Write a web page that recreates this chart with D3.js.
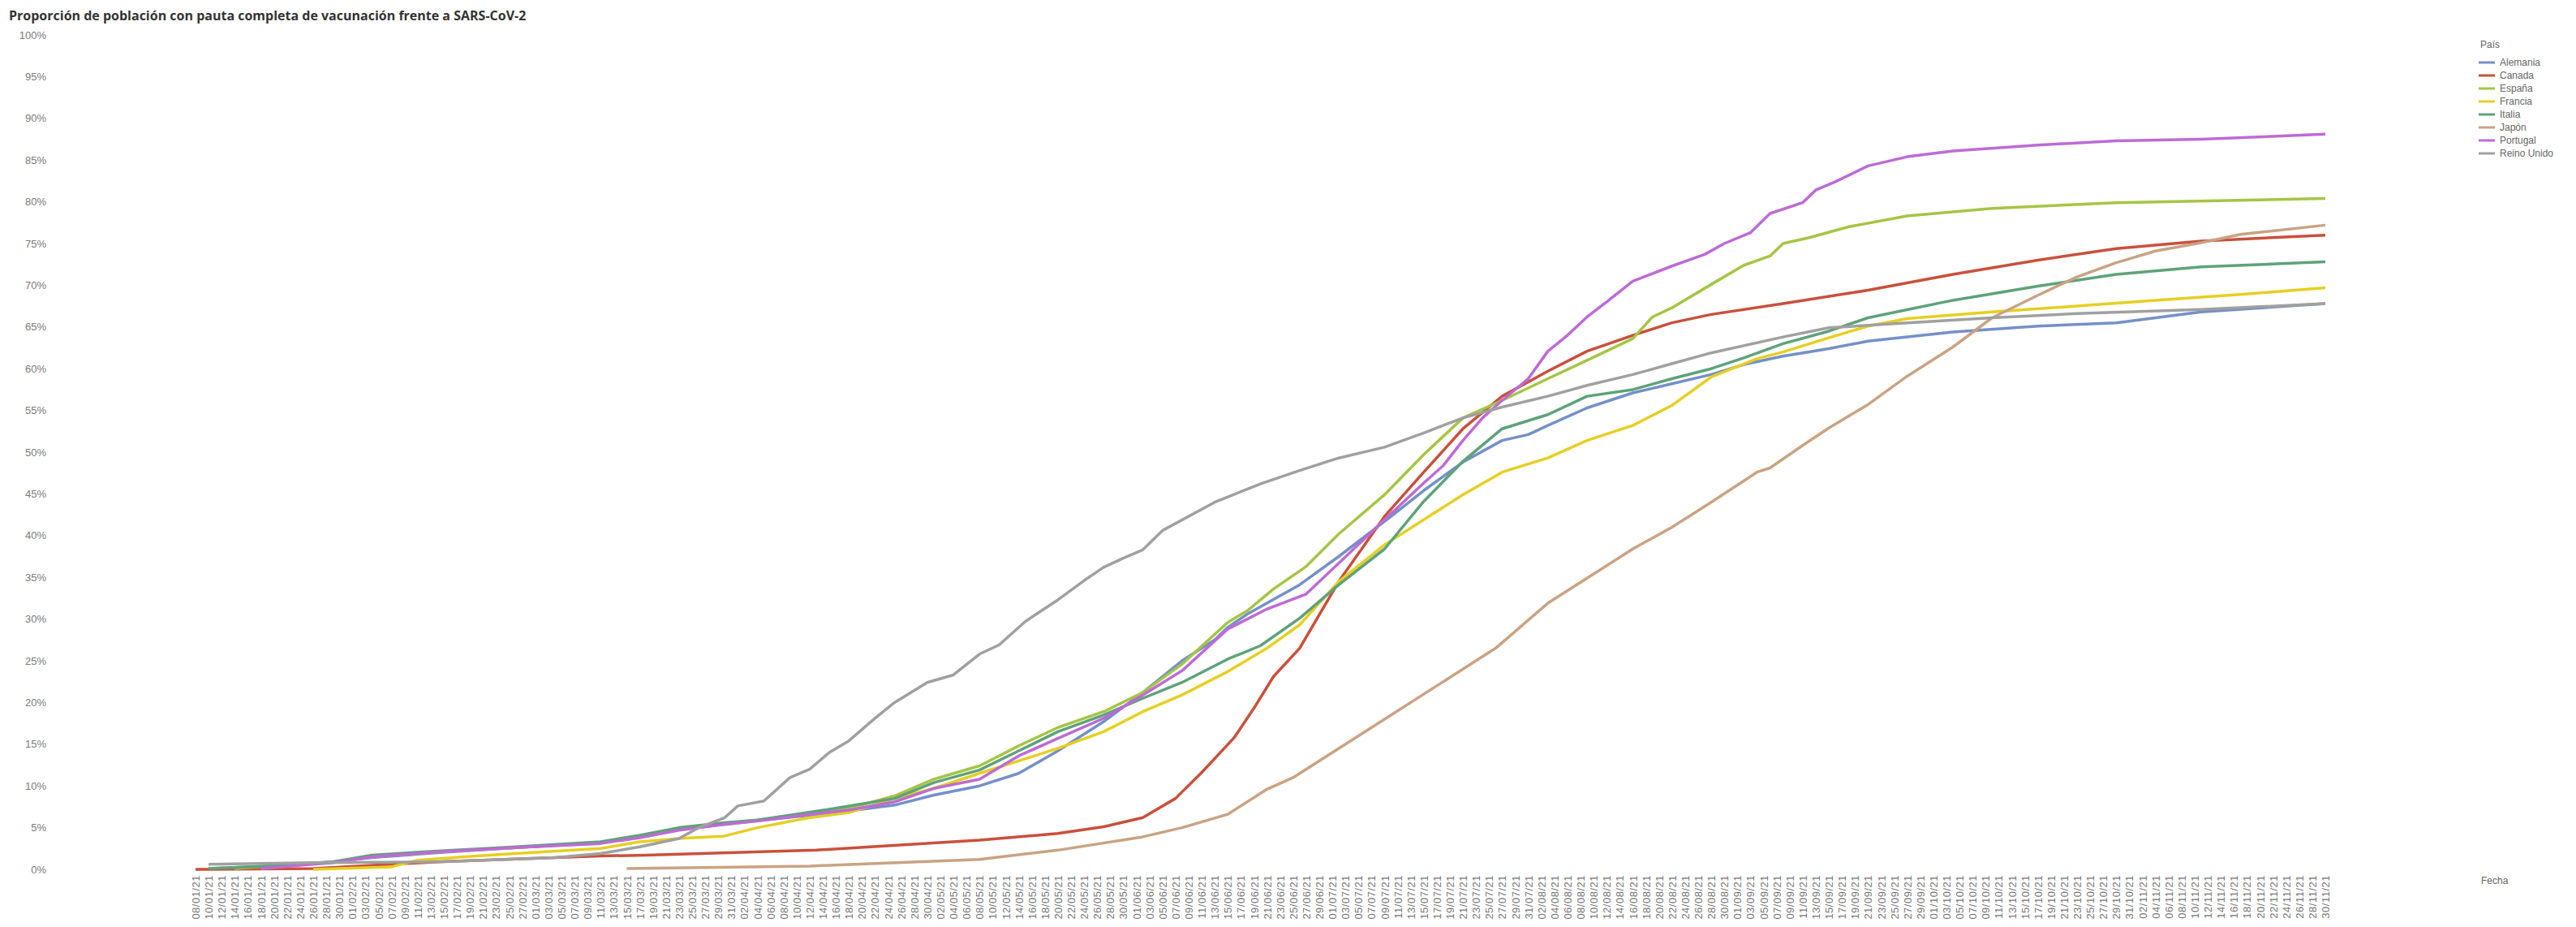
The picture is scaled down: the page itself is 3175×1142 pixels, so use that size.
<!DOCTYPE html>
<html>
<head>
<meta charset="utf-8">
<script src="https://cdn.jsdelivr.net/npm/d3@7"></script>
<style>
  html, body { margin: 0; padding: 0; background: #fff; overflow: hidden; }
  svg { display: block; overflow: visible; }
</style>
</head>
<body>
<svg id="chart"></svg>
<script>
// data: [día/mes, % población con pauta completa]
const countries = ["Alemania", "Canada", "España", "Francia", "Italia", "Japón", "Portugal", "Reino Unido"];
const colors = ["#7490c8", "#c9503b", "#a5c545", "#e6cf22", "#5ea27a", "#c9a383", "#bd6bd4", "#a0a0a0"];
const yTicks = d3.range(0, 101, 5);

const alemania = [["10/01",0.1],["19/01",0.4],["29/01",0.9],["04/02",1.4],["14/02",2.0],["26/02",2.6],["11/03",3.2],["17/03",3.9],["23/03",4.8],["30/03",5.4],["04/04",5.8],["12/04",6.5],["18/04",7.0],["25/04",7.7],["01/05",8.9],["08/05",10.0],["14/05",11.5],["20/05",14.2],["27/05",17.7],["02/06",21.2],["08/06",25.0],["13/06",27.5],["15/06",29.0],["18/06",30.6],["26/06",34.1],["02/07",37.5],["10/07",42.3],["15/07",45.4],["21/07",48.8],["27/07",51.4],["31/07",52.1],["03/08",53.2],["09/08",55.3],["16/08",57.1],["22/08",58.2],["28/08",59.3],["02/09",60.5],["08/09",61.5],["15/09",62.4],["21/09",63.3],["04/10",64.4],["17/10",65.1],["29/10",65.5],["11/11",66.8],["30/11",67.8]];
const canada = [["08/01",0.0],["26/01",0.1],["14/02",0.9],["11/03",1.6],["18/03",1.7],["13/04",2.3],["08/05",3.5],["20/05",4.3],["27/05",5.1],["02/06",6.2],["07/06",8.5],["11/06",11.6],["16/06",15.8],["19/06",19.3],["22/06",23.1],["26/06",26.5],["02/07",34.5],["09/07",42.3],["15/07",47.6],["21/07",52.8],["27/07",56.7],["03/08",59.7],["09/08",62.1],["16/08",64.0],["22/08",65.5],["28/08",66.5],["08/09",67.8],["21/09",69.4],["04/10",71.3],["17/10",73.0],["29/10",74.4],["11/11",75.3],["30/11",76.0]];
const espana = [["14/01",0.1],["19/01",0.4],["29/01",0.8],["04/02",1.5],["14/02",2.1],["26/02",2.6],["11/03",3.2],["17/03",3.9],["23/03",4.8],["30/03",5.5],["04/04",5.9],["12/04",6.7],["18/04",7.3],["25/04",8.8],["01/05",10.8],["08/05",12.4],["14/05",14.8],["20/05",17.0],["27/05",18.9],["02/06",21.2],["08/06",24.6],["15/06",29.6],["18/06",31.0],["22/06",33.6],["27/06",36.3],["02/07",40.2],["09/07",44.9],["15/07",49.7],["21/07",54.1],["27/07",56.2],["03/08",58.8],["09/08",61.0],["16/08",63.6],["19/08",66.2],["22/08",67.3],["28/08",70.1],["02/09",72.4],["06/09",73.5],["08/09",75.0],["12/09",75.7],["18/09",77.0],["27/09",78.3],["10/10",79.2],["29/10",79.9],["30/11",80.4]];
const francia = [["26/01",0.0],["07/02",0.3],["11/02",1.1],["20/02",1.6],["26/02",1.9],["11/03",2.5],["17/03",3.3],["23/03",3.7],["30/03",4.0],["04/04",5.0],["12/04",6.2],["18/04",6.8],["25/04",8.5],["01/05",9.7],["08/05",11.5],["14/05",13.0],["20/05",14.5],["27/05",16.5],["02/06",18.9],["08/06",20.9],["15/06",23.7],["21/06",26.5],["26/06",29.3],["02/07",34.5],["09/07",38.9],["15/07",41.9],["21/07",44.9],["27/07",47.6],["03/08",49.3],["09/08",51.4],["16/08",53.2],["22/08",55.6],["28/08",59.0],["04/09",61.2],["08/09",62.0],["15/09",63.7],["21/09",65.1],["27/09",66.0],["10/10",66.8],["23/10",67.5],["04/11",68.2],["17/11",68.9],["30/11",69.7]];
const italia = [["10/01",0.1],["19/01",0.4],["29/01",0.9],["04/02",1.7],["14/02",2.2],["26/02",2.7],["11/03",3.3],["17/03",4.1],["23/03",5.0],["30/03",5.6],["04/04",5.9],["15/04",7.2],["25/04",8.5],["01/05",10.4],["08/05",11.9],["14/05",14.2],["20/05",16.5],["27/05",18.5],["02/06",20.5],["08/06",22.4],["15/06",25.2],["20/06",26.8],["26/06",30.1],["02/07",34.1],["09/07",38.4],["15/07",44.1],["21/07",48.9],["27/07",52.8],["03/08",54.5],["09/08",56.7],["16/08",57.5],["22/08",58.8],["28/08",60.0],["02/09",61.3],["08/09",63.0],["15/09",64.5],["21/09",66.1],["04/10",68.2],["17/10",69.9],["29/10",71.3],["11/11",72.2],["30/11",72.8]];
const japon = [["15/03",0.1],["12/04",0.4],["08/05",1.2],["20/05",2.3],["02/06",3.9],["08/06",5.0],["15/06",6.6],["21/06",9.6],["25/06",11.0],["02/07",14.5],["09/07",18.0],["15/07",21.0],["21/07",24.0],["26/07",26.5],["03/08",31.9],["09/08",34.9],["16/08",38.4],["22/08",41.0],["28/08",44.0],["04/09",47.6],["06/09",48.1],["11/09",50.8],["15/09",52.9],["21/09",55.7],["27/09",59.1],["04/10",62.6],["10/10",66.1],["17/10",68.8],["23/10",71.0],["29/10",72.7],["04/11",74.1],["11/11",75.1],["17/11",76.1],["30/11",77.2]];
const portugal = [["18/01",0.1],["29/01",0.8],["04/02",1.5],["14/02",2.1],["26/02",2.6],["11/03",3.1],["17/03",3.8],["23/03",4.7],["30/03",5.4],["04/04",5.8],["12/04",6.6],["18/04",7.1],["25/04",8.1],["01/05",9.7],["08/05",10.8],["14/05",13.6],["20/05",15.7],["27/05",18.1],["02/06",20.9],["08/06",23.8],["15/06",28.8],["21/06",31.2],["27/06",33.0],["02/07",36.7],["09/07",41.9],["15/07",46.3],["18/07",48.4],["21/07",51.4],["24/07",54.1],["27/07",56.2],["31/07",58.8],["03/08",62.1],["06/08",64.0],["09/08",66.2],["12/08",68.0],["16/08",70.5],["22/08",72.3],["27/08",73.7],["30/08",75.0],["03/09",76.3],["06/09",78.6],["11/09",79.9],["13/09",81.4],["16/09",82.4],["21/09",84.3],["27/09",85.4],["04/10",86.1],["17/10",86.8],["29/10",87.3],["11/11",87.5],["30/11",88.1]];
const reinoUnido = [["10/01",0.6],["26/01",0.8],["14/02",0.9],["04/03",1.4],["11/03",1.9],["17/03",2.7],["23/03",3.7],["26/03",5.0],["30/03",6.2],["01/04",7.6],["05/04",8.2],["09/04",11.0],["12/04",12.0],["15/04",14.0],["18/04",15.4],["22/04",18.1],["25/04",20.0],["30/04",22.4],["04/05",23.3],["08/05",25.8],["11/05",26.9],["15/05",29.7],["20/05",32.3],["24/05",34.6],["27/05",36.2],["30/05",37.3],["02/06",38.3],["05/06",40.6],["13/06",44.0],["20/06",46.2],["26/06",47.8],["02/07",49.3],["09/07",50.6],["15/07",52.3],["21/07",54.1],["27/07",55.4],["03/08",56.7],["09/08",58.0],["16/08",59.3],["22/08",60.6],["28/08",61.9],["08/09",63.8],["15/09",64.9],["27/09",65.5],["10/10",66.1],["23/10",66.6],["11/11",67.1],["30/11",67.8]];

const seriesValues = [alemania, canada, espana, francia, italia, japon, portugal, reinoUnido];

const firstDay = "08/01/21";
const lastDay = "30/11/21";

const width = 3175;
const height = 1142;
const margin = { top: 43, right: 309, bottom: 71, left: 241 };
const innerWidth = width - margin.left - margin.right;
const innerHeight = height - margin.top - margin.bottom;

const parseDate = d3.timeParse("%d/%m/%y");
const formatDate = d3.timeFormat("%d/%m/%y");

const svg = d3.select("#chart").attr("width", width).attr("height", height);

// scales
const xScale = d3.scaleTime()
  .domain([parseDate(firstDay), parseDate(lastDay)])
  .range([0, innerWidth]);

const yScale = d3.scaleLinear().domain([0, 100]).range([innerHeight, 0]);

const colorScale = d3.scaleOrdinal().domain(countries).range(colors);

// title
svg.append("text")
  .attr("x", 11)
  .attr("y", 25)
  .attr("fill", "#333")
  .style("font-family", "'Open Sans', sans-serif")
  .style("font-weight", 700)
  .style("font-size", "16px")
  .text("Proporción de población con pauta completa de vacunación frente a SARS-CoV-2");

const g = svg.append("g")
  .attr("transform", `translate(${margin.left}, ${margin.top})`);

// axes
const xTickDays = d3.timeDay.range(parseDate(firstDay), d3.timeDay.offset(parseDate(lastDay), 1))
  .filter((d, i) => i % 2 === 0);

const xAxis = d3.axisBottom(xScale)
  .tickValues(xTickDays)
  .tickFormat(formatDate)
  .tickSize(0)
  .tickPadding(0);

const xAxisG = g.append("g")
  .attr("transform", `translate(0, ${innerHeight})`)
  .call(xAxis);
xAxisG.select(".domain").remove();
xAxisG.selectAll("text")
  .attr("transform", "rotate(-90)")
  .attr("x", -7)
  .attr("y", 0)
  .attr("dy", "0.35em")
  .attr("text-anchor", "end")
  .attr("fill", "#777")
  .style("font-family", "'Liberation Sans', Arial, sans-serif")
  .style("font-size", "13px")
  .style("letter-spacing", "0.5px");

const yAxis = d3.axisLeft(yScale)
  .tickValues(yTicks)
  .tickFormat((d) => d + "%")
  .tickSize(0)
  .tickPadding(0);

const yAxisG = g.append("g")
  .attr("transform", `translate(${57 - margin.left}, 0)`)
  .call(yAxis);
yAxisG.select(".domain").remove();
yAxisG.selectAll("text")
  .attr("fill", "#7a7a7a")
  .style("font-family", "'Liberation Sans', Arial, sans-serif")
  .style("font-size", "13px");

svg.append("text")
  .attr("x", 3058)
  .attr("y", 1089)
  .attr("fill", "#666")
  .style("font-family", "'Liberation Sans', Arial, sans-serif")
  .style("font-size", "12px")
  .text("Fecha");

// lines
const lineGenerator = d3.line()
  .x((d) => xScale(parseDate(d[0] + "/21")))
  .y((d) => yScale(d[1]));

countries.forEach((name, i) => {
  g.append("path")
    .attr("class", "line-path")
    .attr("fill", "none")
    .attr("stroke", colorScale(name))
    .attr("stroke-width", 3.5)
    .attr("stroke-linejoin", "round")
    .attr("d", lineGenerator(seriesValues[i]));
});

// legend
const legend = svg.append("g").attr("transform", "translate(3055, 0)");
legend.append("text")
  .attr("x", 2)
  .attr("y", 59)
  .attr("fill", "#666")
  .style("font-family", "'Liberation Sans', Arial, sans-serif")
  .style("font-size", "12px")
  .text("País");

const legendItems = legend.selectAll(".item")
  .data(countries)
  .join("g")
  .attr("class", "item")
  .attr("transform", (d, i) => `translate(0, ${77 + i * 16})`);

legendItems.append("line")
  .attr("x1", 0)
  .attr("x2", 20)
  .attr("stroke", (d) => colorScale(d))
  .attr("stroke-width", 3);

legendItems.append("text")
  .attr("x", 26)
  .attr("dy", "0.35em")
  .attr("fill", "#666")
  .style("font-family", "'Liberation Sans', Arial, sans-serif")
  .style("font-size", "12px")
  .text((d) => d);
</script>
</body>
</html>
